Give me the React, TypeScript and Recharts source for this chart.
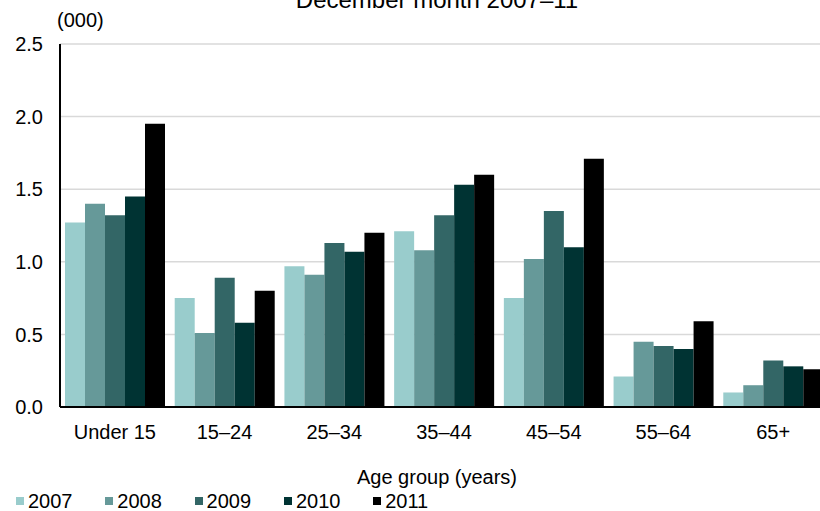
import { BarChart, Bar, XAxis, YAxis, CartesianGrid } from 'recharts';

const categories = ['Under 15', '15–24', '25–34', '35–44', '45–54', '55–64', '65+'];
const years = ['2007', '2008', '2009', '2010', '2011'];
const v2007 = [1.27, 0.75, 0.97, 1.21, 0.75, 0.21, 0.1];
const v2008 = [1.4, 0.51, 0.91, 1.08, 1.02, 0.45, 0.15];
const v2009 = [1.32, 0.89, 1.13, 1.32, 1.35, 0.42, 0.32];
const v2010 = [1.45, 0.58, 1.07, 1.53, 1.1, 0.4, 0.28];
const v2011 = [1.95, 0.8, 1.2, 1.6, 1.71, 0.59, 0.26];
const yTicks = [0, 0.5, 1, 1.5, 2, 2.5];

const colors = ['#99CCCC', '#669999', '#336666', '#003333', '#000000'];
const seriesValues = [v2007, v2008, v2009, v2010, v2011];

const data = categories.map((group, i) => {
    const row: Record<string, string | number> = { group };
    years.forEach((y, s) => {
        row[y] = seriesValues[s][i];
    });
    return row;
});

const FONT = "'Liberation Sans', Arial, Helvetica, sans-serif";

export default function App() {
    return (
        <div
            style={{
                position: 'absolute',
                left: 0,
                top: 0,
                width: 820,
                height: 511,
                overflow: 'hidden',
                background: '#fff',
                fontFamily: FONT,
                color: '#000',
            }}
        >
            <div style={{ position: 'absolute', left: 0, width: 874, top: -12, textAlign: 'center', fontSize: 24, lineHeight: '24px' }}>
                December month 2007–11
            </div>
            <div style={{ position: 'absolute', left: 57, top: 10, fontSize: 20, lineHeight: '20px' }}>(000)</div>

            <BarChart
                width={830}
                height={511}
                data={data}
                margin={{ top: 44, right: 2, left: 0, bottom: 64 }}
                barCategoryGap={5}
                barGap={0}
                style={{ fontFamily: FONT }}
            >
                <CartesianGrid vertical={false} stroke="#d9d9d9" strokeWidth={1.5} />
                <XAxis
                    dataKey="group"
                    axisLine={{ stroke: '#000', strokeWidth: 2 }}
                    tickLine={false}
                    tickSize={0}
                    tickMargin={18}
                    height={40}
                    interval={0}
                    tick={{ fill: '#000', fontSize: 20 }}
                />
                <YAxis
                    domain={[0, 2.5]}
                    ticks={yTicks}
                    width={60}
                    axisLine={{ stroke: '#000', strokeWidth: 2 }}
                    tickLine={false}
                    tickSize={0}
                    tickMargin={17}
                    tickFormatter={(v: number) => v.toFixed(1)}
                    tick={{ fill: '#000', fontSize: 20 }}
                />
                {years.map((y, s) => (
                    <Bar key={y} dataKey={y} fill={colors[s]} isAnimationActive={false} />
                ))}
            </BarChart>

            <div style={{ position: 'absolute', left: 0, width: 874, top: 467, textAlign: 'center', fontSize: 20, lineHeight: '20px' }}>
                Age group (years)
            </div>
            {years.map((y, s) => (
                <div key={y} style={{ position: 'absolute', left: 16 + s * 89.3, top: 491, height: 20, display: 'flex', alignItems: 'center' }}>
                    <span style={{ display: 'inline-block', width: 8, height: 8, background: colors[s], marginRight: 4 }} />
                    <span style={{ fontSize: 20, lineHeight: '20px' }}>{y}</span>
                </div>
            ))}
        </div>
    );
}
